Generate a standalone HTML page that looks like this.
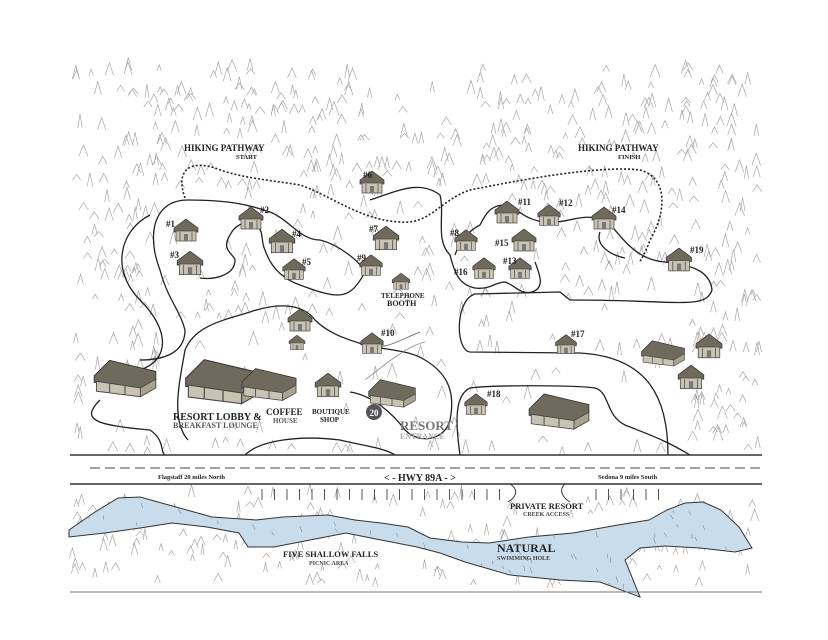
<!DOCTYPE html>
<html><head><meta charset="utf-8"><style>
html,body{margin:0;padding:0;background:#fff;}
svg{display:block;}
text{font-family:"Liberation Serif",serif;font-weight:bold;fill:#222;}
</style></head><body>
<svg id="s" width="828" height="640" viewBox="0 0 828 640" xmlns="http://www.w3.org/2000/svg">
<defs>
<symbol id="cab" viewBox="0 0 30 26">
<polygon points="3,10 15,1 27,10 27,14 3,14" fill="#6f6a5c" stroke="#333" stroke-width="0.7"/>
<rect x="5" y="13" width="20" height="10" fill="#c9c3b2" stroke="#444" stroke-width="0.7"/>
<line x1="9" y1="14" x2="9" y2="23" stroke="#555" stroke-width="0.8"/>
<line x1="21" y1="14" x2="21" y2="23" stroke="#555" stroke-width="0.8"/>
<rect x="13" y="16" width="4" height="7" fill="#777"/>
</symbol>
<symbol id="big" viewBox="0 0 60 36">
<polygon points="2,16 16,2 58,12 58,20 44,28 2,22" fill="#6f6a5c" stroke="#333" stroke-width="0.8"/>
<polygon points="4,21 44,27 44,35 4,30" fill="#c9c3b2" stroke="#444" stroke-width="0.8"/>
<polygon points="44,27 58,19 58,27 44,35" fill="#a9a390" stroke="#444" stroke-width="0.8"/>
<line x1="16" y1="23" x2="16" y2="31" stroke="#555"/><line x1="30" y1="25" x2="30" y2="33" stroke="#555"/>
</symbol>
<clipPath id="rc"><path id="rcp" d=""/></clipPath>
</defs>
<g id="trees" stroke="#a8a8a8" stroke-width="0.7" fill="none"></g>

<!-- river -->
<path id="river" d="M69,530 L95,512 L118,498 L140,497 L176,507 L212,517 L256,520 L283,517 L328,515 L355,520 L381,523 L408,527 L430,538 L462,542 L489,543 L529,537 L573,533 L618,525 L649,520 L667,510 L685,503 L703,502 L721,510 L739,527 L752,548 L735,552 L700,548 L665,546 L640,548 L625,560 L640,597 L600,582 L560,580 L510,575 L465,562 L440,553 L417,547 L381,540 L346,533 L310,540 L274,547 L248,547 L239,533 L207,527 L172,523 L140,528 L105,533 L69,537 Z" fill="#c9dcec" stroke="#333" stroke-width="1"/>
<g id="rip" stroke="#7a8b9c" stroke-width="0.6" clip-path="url(#rc)"></g>

<!-- trails -->
<g fill="none" stroke="#222" stroke-width="1.3">
<path d="M188,200 C150,200 148,240 160,270 C168,300 180,310 185,330 C185,355 160,360 140,360"/>
<path d="M188,200 C230,200 250,205 270,212 C290,220 300,240 320,240 C340,245 360,262 365,272 C350,300 340,300 300,285 C280,278 270,265 265,250 C260,240 265,230 255,225 C245,220 235,225 230,235 C220,250 235,255 235,260 C235,275 215,280 200,278"/>
<path d="M150,215 C120,230 110,270 140,300 C170,330 170,360 140,370"/>
<path d="M100,400 C80,420 95,425 150,430 C165,440 160,452 165,455"/>
<path d="M370,200 C400,190 420,180 440,195 C445,215 435,240 450,255 C455,275 460,285 475,288 C490,290 495,282 505,282 C515,285 520,295 532,292 C545,288 540,275 535,262"/>
<path d="M455,255 C460,240 470,230 480,225 C485,215 490,205 505,205 C520,210 525,220 545,222 C570,224 580,212 605,220 C615,225 630,260 665,262 C690,265 710,270 712,290 C705,310 680,300 570,300"/>
<path d="M570,300 L560,292 L475,294 C455,300 455,350 470,352 L580,353 C650,357 668,400 668,455"/>
<path d="M600,232 C595,245 610,255 625,258"/>
<path d="M188,440 C170,420 180,380 185,350 C195,325 225,320 250,312 C270,305 300,300 315,320 C330,335 350,340 365,345 C385,350 410,350 425,360 C450,375 455,395 450,420 C445,440 420,445 405,430 C390,410 370,395 350,392"/>
<path d="M460,455 C455,420 455,395 470,388 C490,385 575,385 595,388 C610,392 605,415 625,425 C650,435 665,440 690,455"/>
<path d="M245,455 C260,440 300,435 340,440 C360,445 385,448 395,455"/>
</g>
<path d="M185,198 C175,170 190,160 215,168 C240,178 270,180 300,185 C330,195 360,220 400,222 C430,225 440,200 470,190 C520,180 600,165 640,170 C670,178 665,215 650,240 C645,255 640,260 640,262" fill="none" stroke="#222" stroke-width="1.6" stroke-dasharray="2,2"/>
<path d="M373,345 C385,350 400,340 420,332" fill="none" stroke="#555" stroke-width="0.8"/>
<path d="M365,380 C390,360 410,345 425,342" fill="none" stroke="#888" stroke-width="0.8"/>

<!-- cabins -->
<use href="#cab" x="357" y="170" width="30" height="26"/>
<use href="#cab" x="171" y="218" width="30" height="26"/>
<use href="#cab" x="236" y="206" width="30" height="26"/>
<use href="#cab" x="174" y="250" width="32" height="28"/>
<use href="#cab" x="266" y="228" width="32" height="28"/>
<use href="#cab" x="280" y="257" width="28" height="26"/>
<use href="#cab" x="370" y="225" width="32" height="28"/>
<use href="#cab" x="357" y="253" width="28" height="26"/>
<use href="#cab" x="390" y="272" width="22" height="20"/>
<use href="#cab" x="452" y="228" width="28" height="26"/>
<use href="#cab" x="492" y="200" width="30" height="26"/>
<use href="#cab" x="535" y="203" width="28" height="26"/>
<use href="#cab" x="589" y="206" width="30" height="26"/>
<use href="#cab" x="509" y="228" width="30" height="26"/>
<use href="#cab" x="470" y="256" width="28" height="26"/>
<use href="#cab" x="506" y="256" width="28" height="26"/>
<use href="#cab" x="663" y="247" width="32" height="27"/>
<use href="#cab" x="553" y="333" width="26" height="24"/>
<use href="#cab" x="692" y="333" width="34" height="28"/>
<use href="#cab" x="675" y="364" width="32" height="28"/>
<use href="#big" x="640" y="338" width="46" height="30"/>
<use href="#cab" x="358" y="331" width="28" height="26"/>
<use href="#cab" x="312" y="372" width="32" height="28"/>
<use href="#cab" x="283" y="308" width="34" height="26"/>
<use href="#cab" x="287" y="334" width="20" height="18"/>
<use href="#cab" x="462" y="392" width="28" height="26"/>
<use href="#big" x="92" y="355" width="66" height="46"/>
<use href="#big" x="367" y="375" width="50" height="36"/>
<use href="#big" x="527" y="389" width="64" height="44"/>
<use href="#big" x="183" y="350" width="80" height="62"/>
<use href="#big" x="240" y="360" width="58" height="48"/>
<circle cx="374" cy="412" r="8" fill="#555"/>
<text x="374" y="416" font-size="9" text-anchor="middle" style="fill:#fff">20</text>

<!-- labels -->
<g font-size="9">
<text x="363" y="178">#6</text><text x="166" y="227">#1</text><text x="260" y="213">#2</text><text x="170" y="258">#3</text><text x="292" y="237">#4</text><text x="302" y="265">#5</text>
<text x="369" y="232">#7</text><text x="357" y="261">#9</text><text x="450" y="236">#8</text><text x="518" y="205">#11</text><text x="559" y="206">#12</text><text x="612" y="213">#14</text>
<text x="495" y="246">#15</text><text x="503" y="264">#13</text><text x="454" y="275">#16</text><text x="690" y="253">#19</text><text x="571" y="337">#17</text><text x="381" y="336">#10</text><text x="487" y="397">#18</text>
</g>
<text x="184" y="151" font-size="9">HIKING PATHWAY</text><text x="236" y="159" font-size="6.5">START</text>
<text x="578" y="151" font-size="9">HIKING PATHWAY</text><text x="618" y="159" font-size="6.5">FINISH</text>
<text x="381" y="298" font-size="7">TELEPHONE</text><text x="387" y="306" font-size="8">BOOTH</text>
<text x="173" y="420" font-size="10">RESORT LOBBY &amp;</text><text x="173" y="428" font-size="8" style="fill:#555">BREAKFAST LOUNGE</text>
<text x="266" y="415" font-size="9">COFFEE</text><text x="273" y="423" font-size="7" style="fill:#555">HOUSE</text>
<text x="312" y="414" font-size="7">BOUTIQUE</text><text x="320" y="422" font-size="7">SHOP</text>
<text x="400" y="430" font-size="13" style="fill:#777">RESORT</text><text x="400" y="439" font-size="8" style="fill:#aaa">ENTRANCE</text>

<!-- road -->
<line x1="70" y1="455" x2="762" y2="455" stroke="#333" stroke-width="1.4"/>
<line x1="90" y1="468" x2="762" y2="468" stroke="#444" stroke-width="1" stroke-dasharray="10,5"/>
<line x1="70" y1="484" x2="762" y2="484" stroke="#333" stroke-width="1.4"/>
<text x="158" y="479" font-size="6.5">Flagstaff 20 miles North</text>
<text x="384" y="481" font-size="10">&lt; -   HWY 89A   - &gt;</text>
<text x="598" y="479" font-size="6.5">Sedona 9 miles South</text>
<g id="ticks" stroke="#444" stroke-width="0.9"></g>
<path d="M510,484 C520,490 515,498 508,502 M565,484 C558,490 563,498 570,502" fill="none" stroke="#333"/>
<text x="510" y="509" font-size="8.5">PRIVATE RESORT</text><text x="523" y="516" font-size="6" style="fill:#444">CREEK ACCESS</text>
<text x="283" y="557" font-size="8.5">FIVE SHALLOW FALLS</text><text x="309" y="565" font-size="6" style="fill:#444">PICNIC AREA</text>
<text x="497" y="552" font-size="12">NATURAL</text><text x="497" y="560" font-size="6" style="fill:#444">SWIMMING HOLE</text>
<line x1="70" y1="592" x2="762" y2="592" stroke="#777" stroke-width="1"/>
</svg>
<script>
var s=1234567;function r(){s=(s*16807)%2147483647;return s/2147483647;}
var ns="http://www.w3.org/2000/svg",g=document.getElementById("trees"),d="";
var clear=[[150,200,330,285],[350,225,420,300],[445,195,560,295],[180,320,450,445],[455,300,690,450],[160,300,180,450],[90,400,160,450]];
function tri(x,y,h,w){return "M"+(x-w).toFixed(1)+","+y.toFixed(1)+"l"+w.toFixed(1)+","+(-h).toFixed(1)+"l"+w.toFixed(1)+","+h.toFixed(1);}
for(var i=0;i<950;i++){var x=75+r()*685,y=70+r()*385;
 var c=false;for(var k=0;k<clear.length;k++){var q=clear[k];if(x>q[0]&&x<q[2]&&y>q[1]&&y<q[3])c=true;}
 if(c&&r()<0.8)continue; if(y<110&&x>380&&x<480&&r()<0.7)continue;
 d+=tri(x,y,5+r()*9,2+r()*3);}
for(var i=0;i<180;i++){var x=72+r()*685,y=494+r()*94;d+=tri(x,y,4+r()*8,1.5+r()*3);}
var p=document.createElementNS(ns,"path");p.setAttribute("d",d);g.appendChild(p);
var td="";
for(var x=262;x<500;x+=12.5)td+="M"+x+",489v11";
for(var x=596;x<660;x+=12.5)td+="M"+x+",489v11";
var tp=document.createElementNS(ns,"path");tp.setAttribute("d",td);document.getElementById("ticks").appendChild(tp);
document.getElementById("rcp").setAttribute("d",document.getElementById("river").getAttribute("d"));
var rd="";for(var i=0;i<160;i++){var x=70+r()*685,y=495+r()*100;rd+="M"+x.toFixed(1)+","+y.toFixed(1)+"l"+(r()*3).toFixed(1)+","+(3+r()*3).toFixed(1);}
var rr=document.createElementNS(ns,"path");rr.setAttribute("d",rd);document.getElementById("rip").appendChild(rr);
</script>
</body></html>
